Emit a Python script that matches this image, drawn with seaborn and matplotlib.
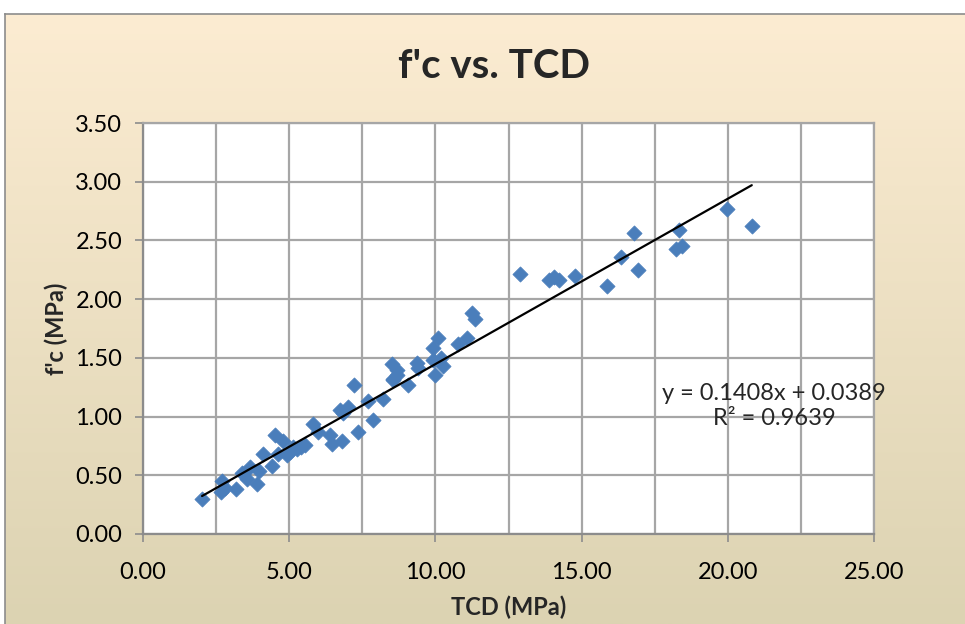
import numpy as np
import pandas as pd
import matplotlib
matplotlib.use('Agg')
import matplotlib.pyplot as plt
from matplotlib.ticker import MultipleLocator, FormatStrFormatter
import seaborn as sns

# TCD vs f'c readings (MPa)
tcd = [2.02, 2.66, 2.69, 2.80, 3.17, 3.38, 3.55, 3.66, 3.89, 3.97,
       4.09, 4.40, 4.51, 4.62, 4.80, 4.91, 5.03, 5.14, 5.25, 5.40,
       5.54, 5.82, 6.00, 6.40, 6.45, 6.74, 6.80, 6.84, 7.02, 7.23,
       7.36, 7.71, 7.88, 8.22, 8.50, 8.54, 8.56, 8.68, 8.68, 9.08,
       9.36, 9.42, 9.93, 9.93, 9.99, 10.10, 10.18, 10.27, 10.78, 11.09,
       11.24, 11.35, 12.89, 13.88, 14.06, 14.23, 14.77, 15.86, 16.35, 16.79,
       16.94, 18.22, 18.34, 18.44, 19.98, 20.82]
fc = [0.30, 0.36, 0.45, 0.39, 0.38, 0.52, 0.47, 0.57, 0.43, 0.54,
      0.68, 0.58, 0.84, 0.68, 0.79, 0.67, 0.70, 0.74, 0.72, 0.74,
      0.76, 0.94, 0.87, 0.84, 0.77, 1.06, 0.79, 1.03, 1.08, 1.27,
      0.87, 1.13, 0.97, 1.15, 1.45, 1.31, 1.32, 1.40, 1.35, 1.27,
      1.46, 1.41, 1.48, 1.58, 1.35, 1.67, 1.50, 1.43, 1.62, 1.67,
      1.88, 1.83, 2.21, 2.16, 2.19, 2.16, 2.20, 2.11, 2.36, 2.56,
      2.25, 2.43, 2.59, 2.45, 2.77, 2.62]

slope = 0.1408
intercept = 0.0389
r_squared = 0.9639

title = "f'c vs. TCD"
x_label = "TCD (MPa)"
y_label = "f'c (MPa)"

sns.set_style('white')
plt.rcParams['font.family'] = ['Lato', 'DejaVu Sans']

df = pd.DataFrame({'tcd': tcd, 'fc': fc})
xs = np.array([min(tcd), max(tcd)])
trend = pd.DataFrame({'tcd': xs, 'fc': slope * xs + intercept})

W, H = 965, 624
fig = plt.figure(figsize=(W / 100, H / 100), dpi=100)
fig.patch.set_facecolor('white')

# parchment-like gradient behind the chart
bg = fig.add_axes([5 / W, 0, 1 - 5 / W, 1 - 14 / H], zorder=-5)
top_c = np.array([252, 236, 210]) / 255
bot_c = np.array([220, 211, 178]) / 255
t = np.linspace(0, 1, 256)[:, None]
grad = (top_c[None, :] * (1 - t) + bot_c[None, :] * t)[:, None, :]
bg.imshow(grad, aspect='auto', extent=[0, 1, 0, 1])
bg.set_xticks([]); bg.set_yticks([])
for side, sp in bg.spines.items():
    sp.set_visible(side in ('left', 'top'))
    sp.set_color('#8c8c8c')
    sp.set_linewidth(1.2)

ax = fig.add_axes([143 / W, 1 - 534 / H, (874 - 143) / W, (534 - 123) / H])
ax.set_facecolor('white')

sns.scatterplot(data=df, x='tcd', y='fc', marker='D', s=60, color='#4a7ebb',
                edgecolor='#4a7ebb', linewidth=0.5, ax=ax, zorder=3)
sns.lineplot(data=trend, x='tcd', y='fc', color='black', linewidth=1.6, ax=ax, zorder=4)

ax.set_xlim(0, 25)
ax.set_ylim(0, 3.5)
ax.xaxis.set_major_locator(MultipleLocator(5))
ax.xaxis.set_minor_locator(MultipleLocator(2.5))
ax.yaxis.set_major_locator(MultipleLocator(0.5))
ax.xaxis.set_major_formatter(FormatStrFormatter('%.2f'))
ax.yaxis.set_major_formatter(FormatStrFormatter('%.2f'))

ax.grid(True, which='both', axis='x', color='#a6a6a6', linewidth=1.6)
ax.grid(True, which='major', axis='y', color='#a6a6a6', linewidth=1.6)
ax.set_axisbelow(True)
for side, sp in ax.spines.items():
    sp.set_color('#a6a6a6')
    sp.set_linewidth(1.6)
ax.spines['left'].set_color('#8c8c8c')
ax.spines['bottom'].set_color('#8c8c8c')

ax.tick_params(axis='both', which='major', direction='out', length=6, width=1.2,
               color='#8c8c8c', labelsize=17, labelcolor='black')
ax.tick_params(axis='y', which='major', pad=9)
ax.tick_params(axis='x', which='major', pad=14)
ax.tick_params(axis='x', which='minor', length=0)
ax.tick_params(axis='y', left=True)
ax.tick_params(axis='x', bottom=True)

ax.set_xlabel(x_label, fontsize=17, fontweight='bold', labelpad=9)
ax.set_ylabel(y_label, fontsize=17, fontweight='bold', labelpad=5)

fig.text(494 / W, 1 - 67 / H, title, ha='center', va='center',
         fontsize=29, fontweight='bold')

ax.text(774 / W, 1 - 406 / H, f"y = {slope}x + {intercept}\nR² = {r_squared}",
        transform=fig.transFigure, ha='center', va='center', multialignment='center',
        fontsize=17, linespacing=1.25)

fig.savefig('out.png', dpi=100)
